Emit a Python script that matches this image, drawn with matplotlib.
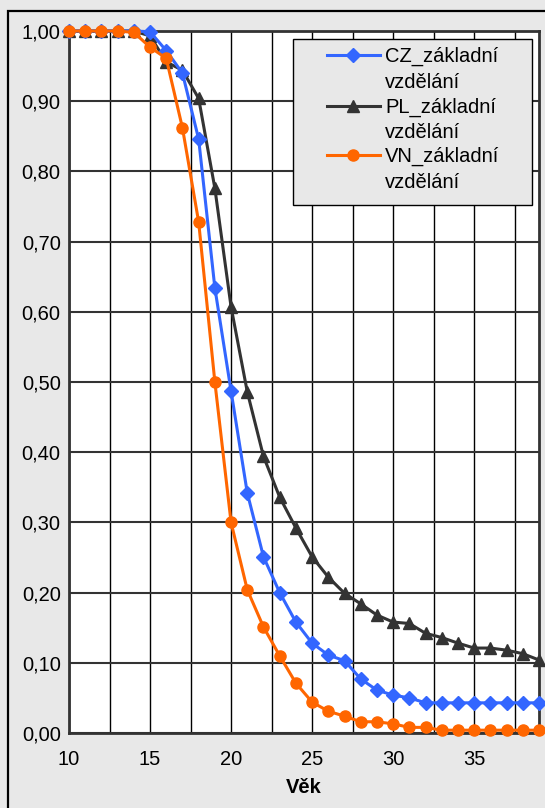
import numpy as np
from matplotlib import pyplot as plt
from matplotlib.ticker import FuncFormatter, MultipleLocator
from matplotlib.patches import Rectangle
from matplotlib.lines import Line2D

plt.rcParams['font.family'] = ['Liberation Sans', 'DejaVu Sans']

vek = list(range(10, 40))
cz = [1.000, 1.000, 1.000, 1.000, 1.000, 0.999, 0.972, 0.940, 0.846, 0.634,
      0.487, 0.342, 0.251, 0.200, 0.158, 0.128, 0.111, 0.103, 0.077, 0.061,
      0.054, 0.050, 0.043, 0.043, 0.043, 0.043, 0.043, 0.043, 0.043, 0.043]
pl = [1.000, 1.000, 1.000, 1.000, 1.000, 0.993, 0.956, 0.944, 0.904, 0.776,
      0.607, 0.486, 0.394, 0.336, 0.292, 0.251, 0.222, 0.199, 0.184, 0.168,
      0.158, 0.156, 0.142, 0.136, 0.128, 0.121, 0.121, 0.118, 0.113, 0.104]
vn = [1.000, 1.000, 1.000, 1.000, 0.998, 0.977, 0.961, 0.862, 0.728, 0.500,
      0.300, 0.204, 0.151, 0.110, 0.071, 0.044, 0.031, 0.024, 0.016, 0.016,
      0.013, 0.008, 0.008, 0.004, 0.004, 0.004, 0.004, 0.004, 0.004, 0.004]
labels = ['CZ_základní', 'PL_základní', 'VN_základní']
label2 = 'vzdělání'

W, H = 545, 808
fs = 14.5
fig = plt.figure(figsize=(W / 100, H / 100), dpi=100)
fig.patch.set_facecolor('#e8e8e8')
fig.patches.append(Rectangle((8 / W, -0.01), 1.1, (H - 11) / H + 0.01,
                             transform=fig.transFigure, fill=False,
                             edgecolor='black', linewidth=1.6))

ax = fig.add_axes([69 / W, (H - 733) / H, (539 - 69) / W, (733 - 31) / H])
ax.set_facecolor('white')

colors = ['#3366ff', '#333333', '#ff6600']
markers = [('D', 7), ('^', 8.5), ('o', 8)]
for ser, c, (m, ms), z in zip([cz, pl, vn], colors, markers, [4, 3, 5]):
    ax.plot(vek, ser, color=c, marker=m, markersize=ms, linewidth=2.2,
            zorder=z, clip_on=False)

ax.set_xlim(10, 39)
ax.set_ylim(0, 1)
ax.xaxis.set_major_locator(MultipleLocator(5))
ax.xaxis.set_minor_locator(MultipleLocator(2.5))
ax.yaxis.set_major_locator(MultipleLocator(0.1))
ax.yaxis.set_major_formatter(FuncFormatter(lambda v, p: f'{v:.2f}'.replace('.', ',')))
ax.grid(True, axis='y', which='major', color='#333333', linewidth=1.5)
ax.grid(True, axis='x', which='both', color='black', linewidth=1.0)
ax.set_axisbelow(True)
ax.tick_params(which='both', length=0, labelsize=fs, colors='black')
ax.tick_params(axis='x', pad=12)
ax.tick_params(axis='y', pad=6)
for s in ax.spines.values():
    s.set_color('#333333')
    s.set_linewidth(2)

ax.set_xlabel('Věk', fontsize=fs, fontweight='bold', labelpad=7)

# legend drawn by hand (handle sits next to the first text line, like Excel)
def fx(px):
    return px / W

def fy(py):
    return (H - py) / H

fig.patches.append(Rectangle((fx(293), fy(205)), fx(532) - fx(293), fy(39) - fy(205),
                             transform=fig.transFigure, facecolor='#e8e8e8',
                             edgecolor='black', linewidth=1.0, zorder=10))
base = [62, 113, 162]
for lab, c, (m, ms), b in zip(labels, colors, markers, base):
    fig.add_artist(Line2D([fx(327), fx(380)], [fy(b - 7), fy(b - 7)],
                          transform=fig.transFigure, color=c, linewidth=2.2,
                          zorder=11))
    fig.add_artist(Line2D([fx(353)], [fy(b - 7)], transform=fig.transFigure,
                          color=c, marker=m, markersize=ms, linestyle='none',
                          zorder=11))
    fig.text(fx(385), fy(b), lab, fontsize=fs, va='baseline', ha='left', zorder=12)
    fig.text(fx(385), fy(b + 25.5), label2, fontsize=fs, va='baseline', ha='left', zorder=12)

fig.savefig('out.png', dpi=100, facecolor=fig.get_facecolor())
